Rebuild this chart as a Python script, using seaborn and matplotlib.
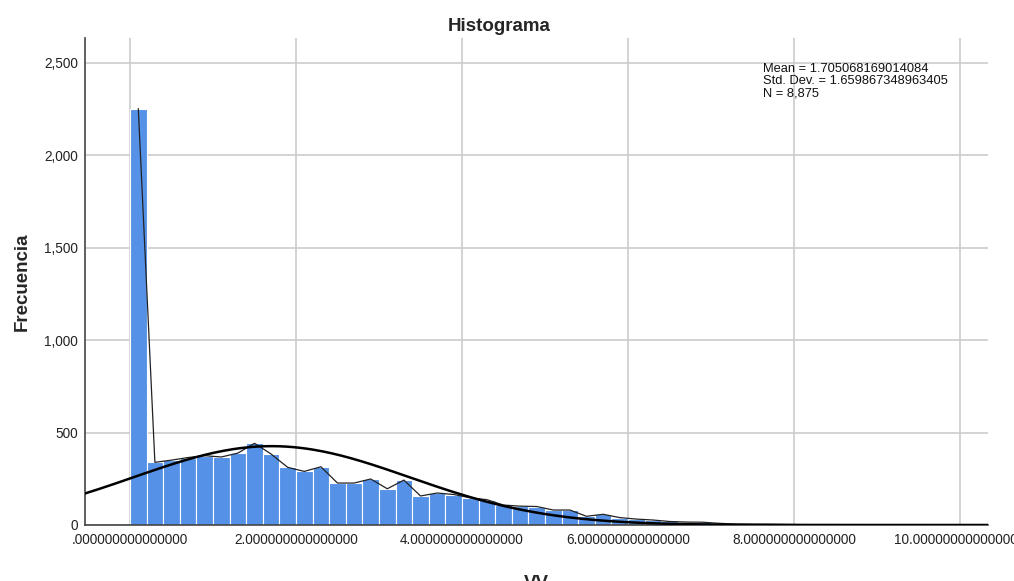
import numpy as np
import pandas as pd
import matplotlib
matplotlib.use("Agg")
import matplotlib.pyplot as plt
import seaborn as sns

# ---- data ----
bin_width = 0.2
bin_starts = [round(i * bin_width, 1) for i in range(52)]
counts = [2253, 339, 351, 365, 375, 368, 389, 442, 384, 312,
          290, 315, 227, 227, 249, 196, 243, 157, 173, 165,
          147, 137, 108, 102, 100, 81, 81, 47, 58, 40,
          32, 27, 19, 16, 15, 9, 5, 4, 4, 3,
          2, 2, 2, 1, 1, 1, 1, 1, 1, 0,
          0, 1]
mean_val = 1.705068169014084
std_val = 1.659867348963405
n_val = 8875
x_ticks = [0, 2, 4, 6, 8, 10]
x_tick_labels = [".000000000000000", "2.000000000000000", "4.000000000000000",
                 "6.000000000000000", "8.000000000000000", "10.000000000000000"]
y_ticks = [0, 500, 1000, 1500, 2000, 2500]
y_tick_labels = ["0", "500", "1,000", "1,500", "2,000", "2,500"]

sns.set_theme(style="white")
plt.rcParams['font.family'] = ['Liberation Sans', 'DejaVu Sans']

df = pd.DataFrame({"start": bin_starts, "count": counts})
df["center"] = df["start"] + bin_width / 2
edges = list(df["start"]) + [df["start"].iloc[-1] + bin_width]

fig = plt.figure(figsize=(10.14, 5.81), dpi=100)
ax = fig.add_axes([85 / 1014, 1 - 525 / 581, (988 - 85) / 1014, (525 - 38) / 581])

sns.histplot(data=df, x="center", weights="count", bins=edges, ax=ax,
             color="#5591e6", alpha=1.0, edgecolor="white", linewidth=0.8, zorder=2)

# frequency polygon through bin centres
poly = df[df["count"] > 0]
sns.lineplot(x=poly["center"], y=poly["count"], ax=ax, color="#222222",
             linewidth=0.9, zorder=3)

# fitted normal curve
xlim = (-0.542, 10.337)
xs = np.linspace(xlim[0], xlim[1], 400)
ys = n_val * bin_width / (std_val * np.sqrt(2 * np.pi)) * np.exp(-0.5 * ((xs - mean_val) / std_val) ** 2)
sns.lineplot(x=xs, y=ys, ax=ax, color="black", linewidth=1.8, zorder=4)

ax.set_xlim(*xlim)
ax.set_ylim(0, 2635)
ax.set_xticks(x_ticks)
ax.set_xticklabels(x_tick_labels, fontsize=9.8, color="#222222")
ax.set_yticks(y_ticks)
ax.set_yticklabels(y_tick_labels, fontsize=9.8, color="#222222")
ax.tick_params(axis="x", length=0, pad=6)
ax.tick_params(axis="y", length=0, pad=5)
ax.grid(True, color="#cccccc", linewidth=1.2, zorder=0)
ax.set_axisbelow(True)
for s in ["top", "right"]:
    ax.spines[s].set_visible(False)
for s in ["left", "bottom"]:
    ax.spines[s].set_color("#444444")
    ax.spines[s].set_linewidth(1.2)

ax.set_xlabel("VV", fontsize=13.5, fontweight="bold", labelpad=20)
ax.set_ylabel("Frecuencia", fontsize=13.5, fontweight="bold", labelpad=10)
fig.text(0.492, 0.955, "Histograma", ha="center", va="center", fontsize=13.5, fontweight="bold")

stats = (f"Mean = {mean_val:.15f}\nStd. Dev. = {std_val:.15f}\nN = {n_val:,}")
fig.text(763 / 1014, 1 - 63 / 581, stats, ha="left", va="top", fontsize=9.3,
         linespacing=1.0, color="#111111")

fig.savefig("out.png", dpi=100)
